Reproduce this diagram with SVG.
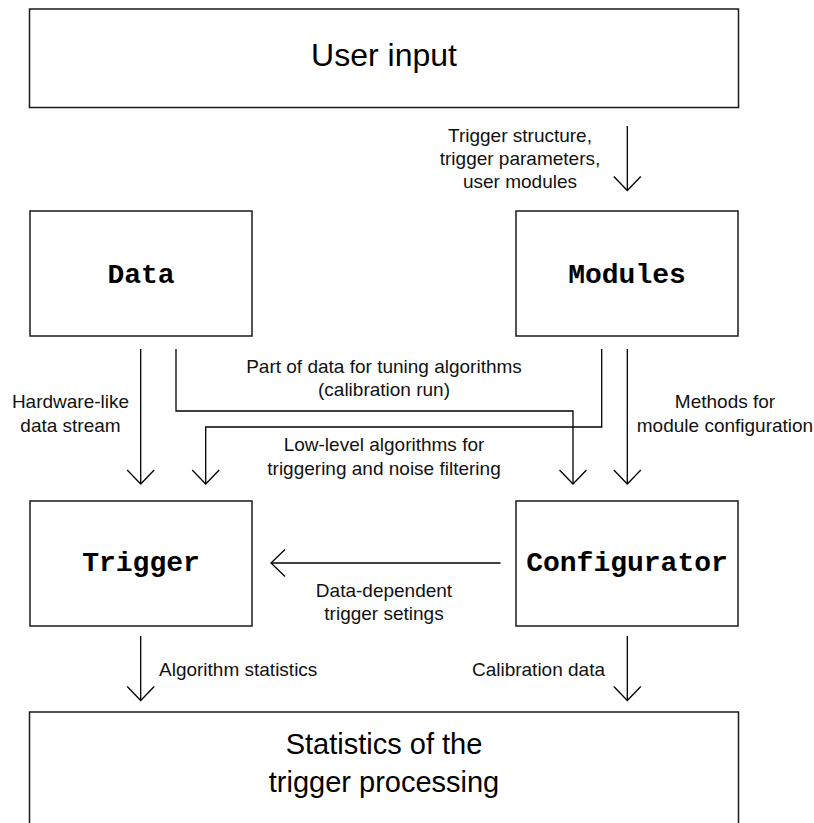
<svg xmlns="http://www.w3.org/2000/svg" width="814" height="823" viewBox="0 0 814 823">
<defs>
<style>
.box{fill:#fff;stroke:#1a1a1a;stroke-width:1.5}
.big{font-family:"Liberation Sans",Arial,sans-serif;font-size:32px;text-anchor:middle;fill:#000}
.big2{font-family:"Liberation Sans",Arial,sans-serif;font-size:29px;text-anchor:middle;fill:#000}
.mono{font-family:"Liberation Mono","Courier New",monospace;font-weight:bold;font-size:28px;text-anchor:middle;fill:#000}
.lbl{font-family:"Liberation Sans",Arial,sans-serif;font-size:19px;fill:#111}
.c{text-anchor:middle}
.e{text-anchor:end}
.ln{fill:none;stroke:#000;stroke-width:1.3}
</style>
<marker id="arr" markerUnits="userSpaceOnUse" markerWidth="32" markerHeight="32" viewBox="-16 -16 32 32" refX="0" refY="0" orient="auto" overflow="visible">
<path d="M-14,-13.5 L0,0 L-14,13.5" fill="none" stroke="#000" stroke-width="1.3"/>
</marker>
</defs>
<rect width="814" height="823" fill="#fff"/>

<g id="user-input">
<rect class="box" x="29.5" y="9" width="709" height="98.5"/>
<text class="big" x="384" y="66">User input</text>
</g>
<g id="data">
<rect class="box" x="30" y="211" width="222" height="125"/>
<text class="mono" x="141" y="283">Data</text>
</g>
<g id="modules">
<rect class="box" x="516" y="211" width="222" height="125"/>
<text class="mono" x="627" y="283">Modules</text>
</g>
<g id="trigger">
<rect class="box" x="30" y="501" width="222" height="125"/>
<text class="mono" x="141" y="571">Trigger</text>
</g>
<g id="configurator">
<rect class="box" x="516" y="501" width="222" height="125"/>
<text class="mono" x="627" y="571">Configurator</text>
</g>
<g id="statistics">
<rect class="box" x="29.5" y="712" width="709" height="130"/>
<text class="big2" x="384" y="754">Statistics of the</text>
<text class="big2" x="384" y="792">trigger processing</text>
</g>

<g id="connectors">
<line class="ln" x1="627.3" y1="126" x2="627.3" y2="190.5" marker-end="url(#arr)"/>
<line class="ln" x1="140.7" y1="349" x2="140.7" y2="484" marker-end="url(#arr)"/>
<path class="ln" d="M176,349 V411 H573 V484" marker-end="url(#arr)"/>
<path class="ln" d="M601.7,349 V427 H205.7 V484" marker-end="url(#arr)"/>
<line class="ln" x1="627.3" y1="349" x2="627.3" y2="484" marker-end="url(#arr)"/>
<line class="ln" x1="500.5" y1="563" x2="271" y2="563" marker-end="url(#arr)"/>
<line class="ln" x1="140.7" y1="636" x2="140.7" y2="700.5" marker-end="url(#arr)"/>
<line class="ln" x1="627.3" y1="636" x2="627.3" y2="700.5" marker-end="url(#arr)"/>

<text class="lbl c" x="520" y="141.5">Trigger structure,</text>
<text class="lbl c" x="520" y="164.5">trigger parameters,</text>
<text class="lbl c" x="520" y="187.5">user modules</text>

<text class="lbl c" x="70.5" y="408">Hardware-like</text>
<text class="lbl c" x="70.5" y="432">data stream</text>

<text class="lbl c" x="384" y="372.5">Part of data for tuning algorithms</text>
<text class="lbl c" x="384" y="396">(calibration run)</text>

<text class="lbl c" x="384" y="450.5">Low-level algorithms for</text>
<text class="lbl c" x="384" y="474.5">triggering and noise filtering</text>

<text class="lbl c" x="725" y="408">Methods for</text>
<text class="lbl c" x="725" y="432">module configuration</text>

<text class="lbl c" x="384" y="596.5">Data-dependent</text>
<text class="lbl c" x="384" y="620">trigger setings</text>

<text class="lbl" x="159" y="675.5">Algorithm statistics</text>
<text class="lbl e" x="605" y="676">Calibration data</text>
</g>
</svg>
